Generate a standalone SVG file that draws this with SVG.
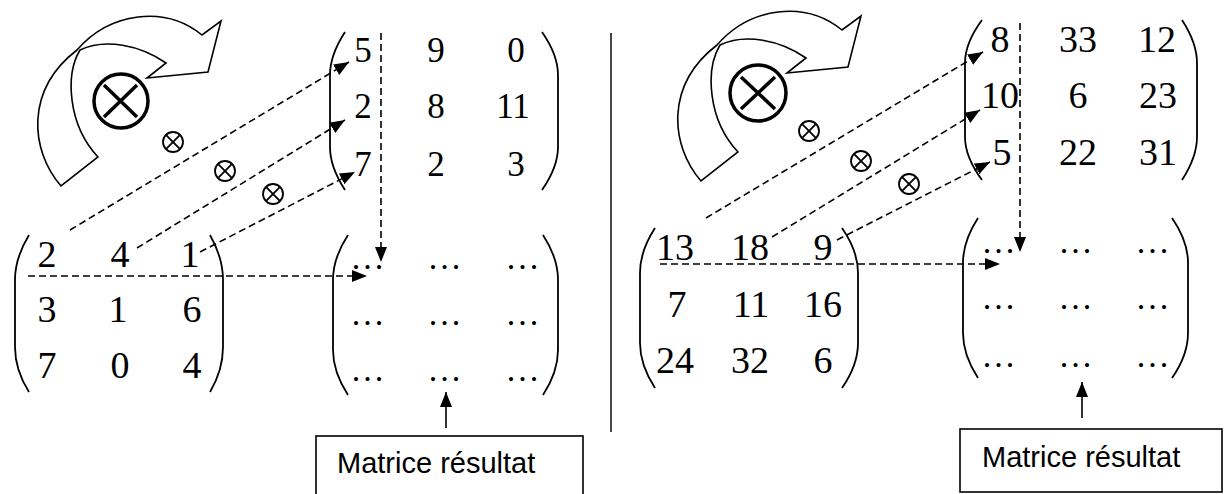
<svg xmlns="http://www.w3.org/2000/svg" width="1224" height="494" viewBox="0 0 1224 494">
  <style>
    .num { font-family: "Liberation Serif", "Times New Roman", serif; fill: #000; text-anchor: middle; }
    .a { font-size: 38px; }
    .b { font-size: 35px; }
    .dots { font-family: "Liberation Serif", serif; font-size: 34px; letter-spacing: 3px; text-anchor: middle; fill: #000; }
    .paren { fill: none; stroke: #000; stroke-width: 1.8; }
    .dash { fill: none; stroke: #000; stroke-width: 1.6; stroke-dasharray: 7 4; marker-end: url(#head); }
    .solid { fill: none; stroke: #000; stroke-width: 1.6; marker-end: url(#head); }
    .bend { fill: #fff; stroke: #000; stroke-width: 1.6; stroke-linejoin: miter; }
    .big { fill: none; stroke: #000; stroke-width: 3.5; }
    .small { fill: none; stroke: #000; stroke-width: 1.8; }
    .label { font-family: "Liberation Sans", Arial, sans-serif; font-size: 29px; fill: #000; }
    .box { fill: #fff; stroke: #000; stroke-width: 1.6; }
  </style>
  <defs>
    <marker id="head" markerUnits="userSpaceOnUse" markerWidth="15" markerHeight="12" refX="15" refY="6" orient="auto">
      <path d="M0,0 L15,6 L0,12 Z" fill="#000"/>
    </marker>
    <!-- curved rotation arrow -->
    <path id="bendArrow" class="bend" d="M61,186 C30,150 25,90 77,50 C110,12 165,5 202,35 L221,21 L208,72 L147,78 L166,63 C140,45 105,38 80,50 C65,75 68,125 98,157 Z"/>
    <!-- product symbol -->
    <g id="otimesSmall">
      <circle cx="0" cy="0" r="10" class="small"/>
      <path d="M-6.8,-6.8 L6.8,6.8 M6.8,-6.8 L-6.8,6.8" class="small"/>
    </g>
  </defs>

  <!-- ===== left panel ===== -->
  <g id="rotate-left">
    <use href="#bendArrow"/>
    <circle cx="121" cy="101" r="27" class="big"/>
    <path d="M104,85 L137,117 M137,85 L104,117" class="big"/>
  </g>
  <g id="ops-left">
    <use href="#otimesSmall" x="173" y="142"/>
    <use href="#otimesSmall" x="225" y="171"/>
    <use href="#otimesSmall" x="273" y="194"/>
  </g>

  <g id="matrixA-left">
    <path class="paren" d="M29,235 Q15,258 15,280 L15,347 Q15,370 29,392"/>
    <path class="paren" d="M210,235 Q223,258 223,280 L223,347 Q223,370 210,392"/>
    <text class="num a" x="47" y="267">2</text>
    <text class="num a" x="120" y="267">4</text>
    <text class="num a" x="190" y="267">1</text>
    <text class="num a" x="47" y="322">3</text>
    <text class="num a" x="118" y="322">1</text>
    <text class="num a" x="192" y="322">6</text>
    <text class="num a" x="47" y="378">7</text>
    <text class="num a" x="120" y="378">0</text>
    <text class="num a" x="192" y="378">4</text>
  </g>

  <g id="matrixB-left">
    <path class="paren" d="M345,32 Q330,55 330,75 L330,147 Q330,167 345,190"/>
    <path class="paren" d="M542,32 Q558,55 558,75 L558,147 Q558,167 542,190"/>
    <text class="num b" x="363" y="62">5</text>
    <text class="num b" x="436" y="62">9</text>
    <text class="num b" x="516" y="62">0</text>
    <text class="num b" x="363" y="118">2</text>
    <text class="num b" x="436" y="118">8</text>
    <text class="num b" x="513" y="118">11</text>
    <text class="num b" x="363" y="176">7</text>
    <text class="num b" x="436" y="176">2</text>
    <text class="num b" x="516" y="176">3</text>
  </g>

  <g id="result-left">
    <path class="paren" d="M348,235 Q333,258 333,280 L333,350 Q333,372 348,395"/>
    <path class="paren" d="M543,235 Q558,258 558,280 L558,350 Q558,372 543,395"/>
    <text class="dots" x="369" y="269">...</text>
    <text class="dots" x="446" y="269">...</text>
    <text class="dots" x="524" y="269">...</text>
    <text class="dots" x="369" y="325">...</text>
    <text class="dots" x="446" y="325">...</text>
    <text class="dots" x="524" y="325">...</text>
    <text class="dots" x="369" y="381">...</text>
    <text class="dots" x="446" y="381">...</text>
    <text class="dots" x="524" y="381">...</text>
  </g>

  <g id="label-left">
    <rect class="box" x="316" y="436" width="267" height="70"/>
    <text class="label" x="337" y="473">Matrice résultat</text>
  </g>

  <!-- panel separator -->
  <line id="separator" x1="611" y1="33" x2="611" y2="432" stroke="#333" stroke-width="1.8"/>

  <!-- ===== right panel ===== -->
  <g id="rotate-right">
    <use href="#bendArrow" transform="translate(640,-5)"/>
    <circle cx="758" cy="93" r="28" class="big"/>
    <path d="M741,77 L775,109 M775,77 L741,109" class="big"/>
  </g>
  <g id="ops-right">
    <use href="#otimesSmall" x="809" y="131"/>
    <use href="#otimesSmall" x="861" y="161"/>
    <use href="#otimesSmall" x="909" y="184"/>
  </g>

  <g id="matrixA-right">
    <path class="paren" d="M655,228 Q640,251 640,273 L640,343 Q640,365 655,388"/>
    <path class="paren" d="M842,228 Q858,251 858,273 L858,343 Q858,365 842,388"/>
    <text class="num a" x="675" y="260">13</text>
    <text class="num a" x="750" y="260">18</text>
    <text class="num a" x="823" y="260">9</text>
    <text class="num a" x="677" y="317">7</text>
    <text class="num a" x="751" y="317">11</text>
    <text class="num a" x="823" y="317">16</text>
    <text class="num a" x="675" y="373">24</text>
    <text class="num a" x="750" y="373">32</text>
    <text class="num a" x="823" y="373">6</text>
  </g>

  <g id="matrixB-right">
    <path class="paren" d="M982,20 Q965,43 965,63 L965,137 Q965,157 982,180"/>
    <path class="paren" d="M1182,20 Q1197,43 1197,63 L1197,137 Q1197,157 1182,180"/>
    <text class="num a" x="1000" y="52">8</text>
    <text class="num a" x="1078" y="52">33</text>
    <text class="num a" x="1157" y="52">12</text>
    <text class="num a" x="1000" y="108">10</text>
    <text class="num a" x="1078" y="108">6</text>
    <text class="num a" x="1158" y="108">23</text>
    <text class="num a" x="1002" y="165">5</text>
    <text class="num a" x="1078" y="165">22</text>
    <text class="num a" x="1158" y="165">31</text>
  </g>

  <g id="result-right">
    <path class="paren" d="M978,218 Q963,241 963,263 L963,333 Q963,355 978,378"/>
    <path class="paren" d="M1172,218 Q1188,241 1188,263 L1188,333 Q1188,355 1172,378"/>
    <text class="dots" x="1000" y="253">...</text>
    <text class="dots" x="1077" y="253">...</text>
    <text class="dots" x="1154" y="253">...</text>
    <text class="dots" x="1000" y="309">...</text>
    <text class="dots" x="1077" y="309">...</text>
    <text class="dots" x="1154" y="309">...</text>
    <text class="dots" x="1000" y="367">...</text>
    <text class="dots" x="1077" y="367">...</text>
    <text class="dots" x="1154" y="367">...</text>
  </g>

  <g id="label-right">
    <rect class="box" x="960" y="429" width="262" height="63"/>
    <text class="label" x="982" y="467">Matrice résultat</text>
  </g>

  <!-- ===== connectors ===== -->
  <g id="connectors">
    <line class="dash" x1="70" y1="230" x2="349" y2="62"/>
    <line class="dash" x1="137" y1="248" x2="345" y2="120"/>
    <line class="dash" x1="200" y1="252" x2="355" y2="172"/>
    <line class="dash" x1="381" y1="33" x2="381" y2="262"/>
    <line class="dash" x1="28" y1="276" x2="367" y2="276"/>
    <line class="solid" x1="446" y1="428" x2="446" y2="392"/>

    <line class="dash" x1="706" y1="218" x2="983" y2="52"/>
    <line class="dash" x1="772" y1="237" x2="980" y2="110"/>
    <line class="dash" x1="837" y1="240" x2="990" y2="162"/>
    <line class="dash" x1="1020" y1="23" x2="1020" y2="252"/>
    <line class="dash" x1="660" y1="264" x2="1000" y2="264"/>
    <line class="solid" x1="1082" y1="418" x2="1082" y2="382"/>
  </g>
</svg>
